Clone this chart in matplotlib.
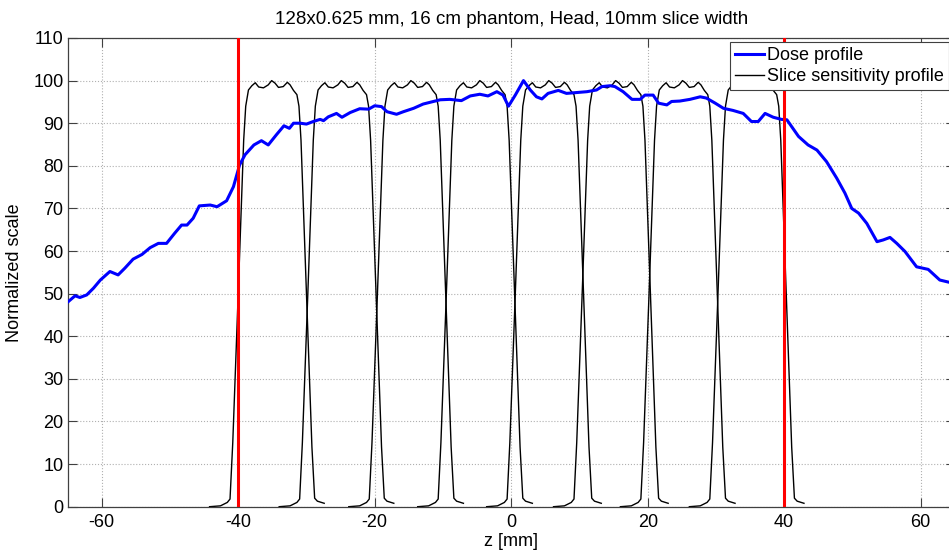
import numpy as np
import matplotlib
matplotlib.use("Agg")
import matplotlib.pyplot as plt

TITULO = "128x0.625 mm, 16 cm phantom, Head, 10mm slice width"

# perfil de dose (z em mm, escala normalizada)
dose_z = [-65.0, -63.9, -63.2, -62.2, -61.2, -60.2, -58.8, -57.6, -56.6, -55.4,
          -54.1, -52.9, -51.7, -50.5, -49.3, -48.3, -47.5, -46.6, -45.7, -44.1,
          -43.1, -41.7, -40.7, -39.8, -39.0, -37.7, -36.6, -35.6, -34.4, -33.3,
          -32.5, -31.9, -30.9, -30.0, -29.0, -28.0, -27.5, -26.8, -25.6, -24.8,
          -23.6, -22.2, -20.9, -20.0, -19.0, -18.2, -16.8, -15.8, -14.3, -12.9,
          -11.4, -10.4, -9.0, -7.3, -6.0, -4.6, -3.4, -2.1, -1.2, -0.4,
          0.6, 1.8, 2.8, 3.7, 4.5, 5.4, 6.9, 8.1, 9.6, 11.1,
          12.5, 13.3, 14.5, 15.2, 16.4, 17.7, 18.9, 19.6, 20.8, 21.6,
          22.8, 23.5, 24.7, 26.2, 27.7, 28.6, 29.9, 31.1, 32.5, 34.0,
          35.2, 36.2, 37.2, 38.4, 39.6, 40.4, 42.1, 43.5, 44.8, 46.2,
          47.7, 48.9, 49.9, 50.9, 52.1, 53.6, 54.5, 55.5, 56.5, 57.7,
          59.4, 61.1, 62.8, 64.1, 65.0]
dose_v = [48.0, 49.5, 49.1, 49.7, 51.3, 53.2, 55.2, 54.4, 56.0, 58.1,
          59.2, 60.8, 61.8, 61.8, 64.2, 66.1, 66.1, 67.7, 70.6, 70.8,
          70.4, 71.8, 75.1, 80.2, 82.6, 84.9, 85.9, 84.9, 87.3, 89.4,
          88.8, 90.0, 90.0, 89.8, 90.4, 90.9, 90.6, 91.5, 92.3, 91.4,
          92.5, 93.4, 93.3, 94.1, 93.9, 92.7, 92.1, 92.7, 93.5, 94.5,
          95.1, 95.5, 95.6, 95.3, 96.4, 96.8, 96.4, 97.4, 96.6, 94.0,
          96.6, 100.0, 97.8, 96.2, 95.7, 97.0, 97.7, 97.0, 97.2, 97.4,
          97.8, 98.6, 98.8, 98.6, 97.4, 95.6, 95.6, 96.6, 96.6, 94.7,
          94.3, 95.1, 95.2, 95.6, 96.2, 95.9, 94.7, 93.5, 93.0, 92.3,
          90.4, 90.4, 92.3, 91.4, 90.9, 90.8, 86.9, 84.9, 83.7, 81.0,
          77.1, 73.6, 70.0, 68.9, 66.5, 62.2, 62.6, 63.2, 61.8, 59.9,
          56.3, 55.7, 53.2, 52.7, 52.5]

# forma de um perfil de sensibilidade (deslocamento ao centro do corte, valor)
ssp_off = [-9.2, -7.6, -6.6, -6.2, -5.8, -5.0, -4.2, -3.9, -3.5, -3.0,
           -2.5, -2.0, -1.3, -0.6, -0.1, 0.4, 0.9, 1.6, 2.2, 2.6,
           3.1, 3.6, 3.9, 4.2, 5.0, 5.8, 6.2, 6.6, 7.6]
ssp_val = [0.0, 0.2, 1.0, 1.8, 15.0, 50.0, 86.0, 94.0, 97.8, 98.8,
           99.5, 98.5, 98.3, 99.0, 100.0, 99.4, 98.4, 98.6, 99.6, 99.0,
           97.7, 96.7, 94.0, 86.0, 50.0, 14.0, 2.0, 1.3, 0.8]
ssp_centros = [-35.0, -24.8, -14.6, -4.5, 5.6, 15.4, 25.2, 35.3]

limites_feixe = [-40, 40]

plt.rcParams["font.family"] = ["Liberation Sans", "DejaVu Sans"]
plt.rcParams["font.size"] = 13
plt.rcParams["axes.unicode_minus"] = False

fig = plt.figure(figsize=(9.49, 5.52), dpi=100)
ax = fig.add_axes([67.6 / 949, 45.3 / 552, (954.8 - 67.6) / 949, (506.7 - 38) / 552])

off = np.array(ssp_off)
for i, c in enumerate(ssp_centros):
    ax.plot(off + c, ssp_val, color="black", lw=1.0, zorder=2,
            label="Slice sensitivity profile" if i == 0 else None)

ax.plot(dose_z, dose_v, color="#0000ff", lw=2.2, zorder=3, label="Dose profile")

for z in limites_feixe:
    ax.axvline(z, color="#ff0000", lw=2.2, zorder=4)

ax.set_xlim(-65, 65)
ax.set_ylim(0, 110)
ax.set_xticks(np.arange(-60, 61, 20))
ax.set_yticks(np.arange(0, 111, 10))
ax.grid(True, linestyle=":", color="#b0b0b0", lw=0.8)
ax.set_axisbelow(True)
ax.tick_params(direction="in", length=6.4, width=0.8, top=True, right=True,
               color="#404040")
ax.tick_params(axis="x", pad=5)
ax.tick_params(axis="y", pad=3)
for s in ax.spines.values():
    s.set_color("#404040")
    s.set_linewidth(0.9)

ax.set_title(TITULO, fontsize=13.5, pad=10)
ax.set_xlabel("z [mm]", labelpad=2)
ax.set_ylabel("Normalized scale", labelpad=7)

h, l = ax.get_legend_handles_labels()
leg = ax.legend([h[-1], h[0]], [l[-1], l[0]], loc="upper right",
                bbox_to_anchor=(1.0, 1 - 42 / 552), bbox_transform=fig.transFigure,
                borderaxespad=0, borderpad=0.3, labelspacing=0.2,
                handlelength=1.6, handletextpad=0.15, fancybox=False,
                framealpha=1, edgecolor="#404040", fontsize=13)
leg.get_frame().set_linewidth(0.8)

fig.savefig("out.png", dpi=100)
